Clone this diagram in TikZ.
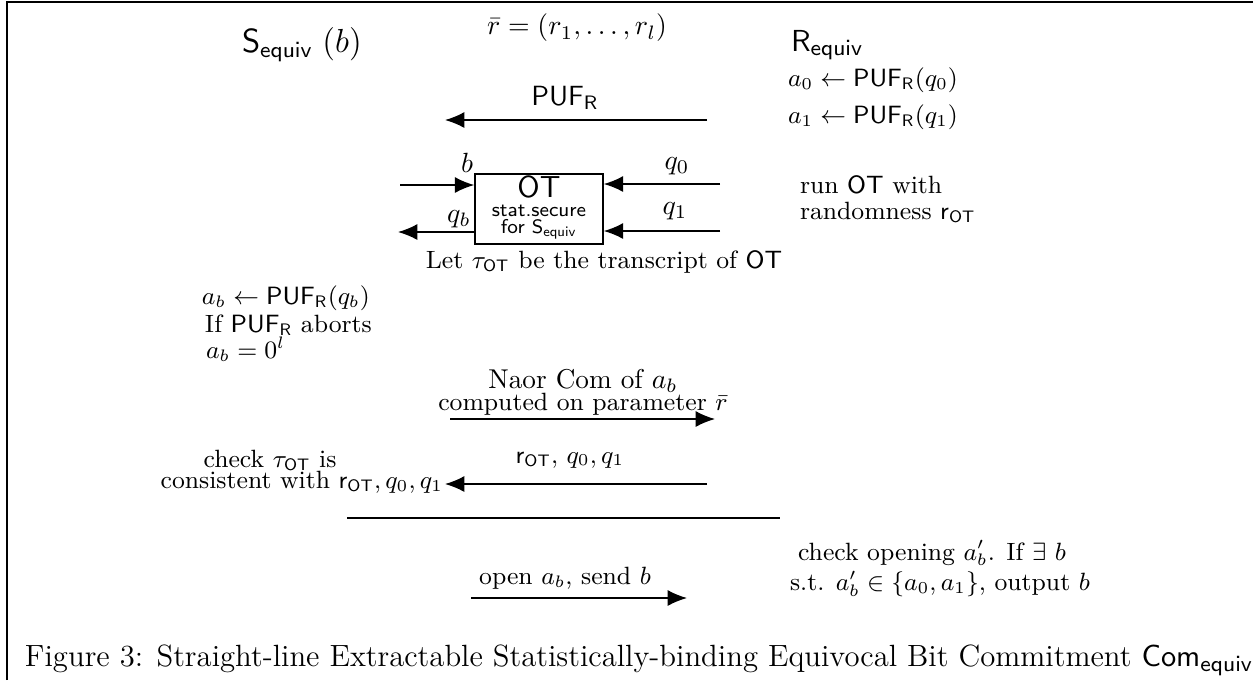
\documentclass[tikz,border=0pt]{standalone}
\usetikzlibrary{arrows.meta}
\begin{document}
\begin{tikzpicture}[x=0.36pt,y=-0.36pt,
  font=\fontsize{9}{11}\selectfont,
  txt/.style={inner sep=0pt, outer sep=0pt},
  msg/.style={line width=0.55pt,-{Latex[length=7pt,width=5.8pt]}},
  plain/.style={line width=0.55pt},
  otbox/.style={draw, line width=0.55pt, minimum width=128*0.36pt, minimum height=70*0.36pt, inner sep=0pt}]
\useasboundingbox (0,0) rectangle (1253,680);
% frame
\coordinate (fl) at (7,680);
\coordinate (fc) at (7,2);
\coordinate (fr) at (1253,2);
\draw[line width=0.7pt] (fl) -- (fc) -- (fr);
% headers
\node[txt,anchor=west,font=\fontsize{11.5}{13}\selectfont] (S) at (242,45) {$\mathsf{S}_{\mathsf{equiv}}\;(b)$};
\node[txt,font=\fontsize{10}{12}\selectfont] (rbar) at (577,28) {$\bar{r}=(r_1,\ldots,r_l)$};
\node[txt,anchor=west,font=\fontsize{11.3}{13}\selectfont] (R) at (791,45) {$\mathsf{R}_{\mathsf{equiv}}$};
\node[txt,anchor=west] (a0) at (788,80) {$a_0\leftarrow\mathsf{PUF}_{\mathsf{R}}(q_0)$};
\node[txt,anchor=west] (a1) at (788,117) {$a_1\leftarrow\mathsf{PUF}_{\mathsf{R}}(q_1)$};
% PUF arrow
\coordinate (p1) at (707,120);
\coordinate (p2) at (445,120);
\draw[msg] (p1) -- (p2);
\node[txt,font=\fontsize{10}{12}\selectfont] (puf) at (565,98) {$\mathsf{PUF}_{\mathsf{R}}$};
% OT box
\node[otbox] (ot) at (539,209) {};
\node[txt,font=\fontsize{11}{13}\selectfont] (otT) at (539,187) {$\mathsf{OT}$};
\node[txt,font=\fontsize{7.2}{9}\sffamily] (ot2) at (539,211) {stat.secure};
\node[txt,font=\fontsize{7.2}{9}\sffamily] (ot3) at (539,229) {for $\mathsf{S}_{\mathsf{equiv}}$};
\coordinate (bin) at (400,185);
\coordinate (qbout) at (398,232);
\coordinate (q0in) at (720,184);
\coordinate (q1in) at (720,231);
\draw[msg] (bin) -- (ot.west |- bin);
\draw[msg] (ot.west |- qbout) -- (qbout);
\draw[msg] (q0in) -- (ot.east |- q0in);
\draw[msg] (q1in) -- (ot.east |- q1in);
\node[txt,font=\fontsize{10}{12}\selectfont] (lb) at (467,163) {$b$};
\node[txt,font=\fontsize{10}{12}\selectfont] (lqb) at (459,219) {$q_b$};
\node[txt,font=\fontsize{10}{12}\selectfont] (lq0) at (677,166) {$q_0$};
\node[txt,font=\fontsize{10}{12}\selectfont] (lq1) at (675,211) {$q_1$};
\node[txt,anchor=west] (run1) at (800,185) {run $\mathsf{OT}$ with};
\node[txt,anchor=west] (run2) at (800,212) {randomness $\mathsf{r}_{\mathsf{OT}}$};
\node[txt] (let) at (604,262) {Let $\tau_{\mathsf{OT}}$ be the transcript of $\mathsf{OT}$};
% left computations
\node[txt,anchor=west] (ab) at (202,298) {$a_b\leftarrow\mathsf{PUF}_{\mathsf{R}}(q_b)$};
\node[txt,anchor=west] (ab2) at (205,325) {If $\mathsf{PUF}_{\mathsf{R}}$ aborts};
\node[txt,anchor=west] (ab3) at (206,349) {$a_b=0^l$};
% Naor
\node[txt,font=\fontsize{9.8}{12}\selectfont] (n1) at (583,381) {Naor Com of $a_b$};
\node[txt] (n2) at (583,404) {computed on parameter $\bar{r}$};
\coordinate (c1) at (450,419);
\coordinate (c2) at (715,419);
\draw[msg] (c1) -- (c2);
% check
\node[txt] (ck1) at (270,460) {check $\tau_{\mathsf{OT}}$ is};
\node[txt,anchor=east] (ck2) at (443,482) {consistent with $\mathsf{r}_{\mathsf{OT}},q_0,q_1$};
\coordinate (d1) at (707,484);
\coordinate (d2) at (445,484);
\draw[msg] (d1) -- (d2);
\node[txt] (dl) at (570,460) {$\mathsf{r}_{\mathsf{OT}},\,q_0,q_1$};
% separator
\coordinate (s1) at (347,518);
\coordinate (s2) at (780,518);
\draw[plain] (s1) -- (s2);
% opening
\node[txt,anchor=west] (o1) at (798,553) {check opening $a'_b$. If $\exists\ b$};
\node[txt,anchor=west] (o2) at (790,584) {s.t. $a'_b\in\{a_0,a_1\}$, output $b$};
\node[txt] (ol) at (565,578) {open $a_b$, send $b$};
\coordinate (e1) at (471,598);
\coordinate (e2) at (687,598);
\draw[msg] (e1) -- (e2);
% caption
\node[txt,anchor=west,font=\fontsize{11.06}{13}\selectfont] (cap) at (25,660) {Figure 3: Straight-line Extractable Statistically-binding Equivocal Bit Commitment $\mathsf{Com}_{\mathsf{equiv}}$};
\end{tikzpicture}
\end{document}
